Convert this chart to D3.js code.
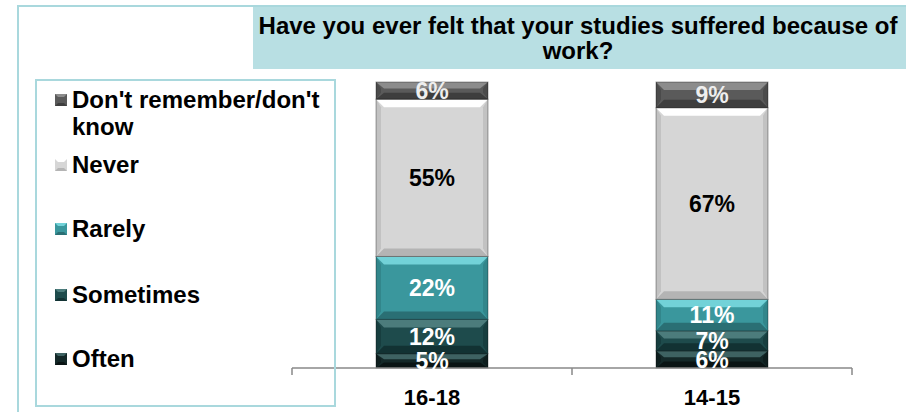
<!DOCTYPE html>
<html>
<head>
<meta charset="utf-8">
<script src="https://cdn.jsdelivr.net/npm/d3@7"></script>
<style>
  html, body { margin: 0; padding: 0; background: #ffffff; }
  svg { display: block; }
  text { font-family: "Liberation Sans", Arial, sans-serif; font-weight: bold; }
</style>
</head>
<body>
<svg id="chart" width="906" height="412"></svg>
<script>
// ---- data ----
const categories = ["16-18", "14-15"];
const seriesKeys = ["Often", "Sometimes", "Rarely", "Never", "Don't remember/don't know"];
const often = [5, 6];
const sometimes = [12, 7];
const rarely = [22, 11];
const never = [55, 67];
const dontKnow = [6, 9];
const titleLines = ["Have you ever felt that your studies suffered because of", "work?"];
const legendOrder = ["Don't remember/don't know", "Never", "Rarely", "Sometimes", "Often"];

// ---- styles ----
const palette = {
  "Often":     { base: "#142828", light: "#3e6262", dark: "#0a1414", side: "#0e1e1e", label: "#ffffff" },
  "Sometimes": { base: "#1e4b4c", light: "#4c7c7c", dark: "#123233", side: "#173e3f", label: "#ffffff" },
  "Rarely":    { base: "#3a979d", light: "#72d2d8", dark: "#2a6f74", side: "#32868b", label: "#ffffff" },
  "Never":     { base: "#d6d6d6", light: "#ffffff", dark: "#b4b4b4", side: "#c2c2c2", label: "#000000" },
  "Don't remember/don't know": { base: "#5a5a5a", light: "#8c8c8c", dark: "#3e3e3e", side: "#4b4b4b", label: "#eeeeee" }
};

const rows = categories.map((c, i) => ({
  cat: c,
  "Often": often[i],
  "Sometimes": sometimes[i],
  "Rarely": rarely[i],
  "Never": never[i],
  "Don't remember/don't know": dontKnow[i]
}));

const svg = d3.select("#chart");

// outer frame
svg.append("path")
  .attr("d", "M18,412 L18,6 L906,6")
  .attr("fill", "none").attr("stroke", "#a9d8dd").attr("stroke-width", 2);

// title box
svg.append("rect").attr("x", 253).attr("y", 7).attr("width", 653).attr("height", 62).attr("fill", "#b8dfe3");
svg.append("text")
  .attr("x", 578).attr("text-anchor", "middle").attr("font-size", 24).attr("fill", "#000")
  .selectAll("tspan").data(titleLines).join("tspan")
  .attr("x", 578).attr("y", (d, i) => 34 + i * 25).text(d => d);

// scales
const x = d3.scaleBand().domain(categories).range([292, 852]).paddingInner(0).paddingOuter(0);
const y = d3.scaleLinear().domain([0, 100]).range([368, 82]);
const barFrac = 0.4;

const stack = d3.stack().keys(seriesKeys);
const stacked = stack(rows);

function bevel(g, x0, y0, w, h, col) {
  const x1 = x0 + w, y1 = y0 + h;
  const d = Math.min(8, h * 0.38);
  const s = Math.min(5, w * 0.1);
  g.append("rect").attr("x", x0).attr("y", y0).attr("width", w).attr("height", h).attr("fill", col.base);
  g.append("polygon").attr("points", [[x0, y0], [x0 + s, y0 + d], [x0 + s, y1 - d], [x0, y1]].join(" ")).attr("fill", col.side);
  g.append("polygon").attr("points", [[x1, y0], [x1 - s, y0 + d], [x1 - s, y1 - d], [x1, y1]].join(" ")).attr("fill", col.side);
  g.append("polygon").attr("points", [[x0, y0], [x1, y0], [x1 - s * 1.6, y0 + d], [x0 + s * 1.6, y0 + d]].join(" ")).attr("fill", col.light);
  g.append("polygon").attr("points", [[x0, y1], [x1, y1], [x1 - s * 1.6, y1 - d], [x0 + s * 1.6, y1 - d]].join(" ")).attr("fill", col.dark);
  g.append("rect").attr("x", x0).attr("y", y0).attr("width", w).attr("height", h)
    .attr("fill", "none").attr("stroke", "rgba(0,0,0,0.35)").attr("stroke-width", 1);
}

// bars
const barsG = svg.append("g");
stacked.forEach(layer => {
  const col = palette[layer.key];
  layer.forEach(seg => {
    const cat = seg.data.cat;
    const bw = x.bandwidth() * barFrac;
    const bx = x(cat) + (x.bandwidth() - bw) / 2;
    const yt = y(seg[1]), yb = y(seg[0]);
    bevel(barsG.append("g"), bx, yt, bw, yb - yt, col);
  });
});

// axis
const axisY = 368;
const axisG = svg.append("g");
axisG.append("line").attr("x1", x.range()[0]).attr("x2", x.range()[1]).attr("y1", axisY).attr("y2", axisY)
  .attr("stroke", "#888888").attr("stroke-width", 1.5);
const bounds = categories.map(c => x(c)).concat([x.range()[1]]);
axisG.selectAll("line.tick").data(bounds).join("line")
  .attr("x1", d => d).attr("x2", d => d).attr("y1", axisY).attr("y2", axisY + 7)
  .attr("stroke", "#888888").attr("stroke-width", 1.5);
axisG.selectAll("text.cat").data(categories).join("text")
  .attr("x", d => x(d) + x.bandwidth() / 2).attr("y", 405)
  .attr("text-anchor", "middle").attr("font-size", 22).attr("fill", "#000").text(d => d);

// data labels
const labelsG = svg.append("g");
stacked.forEach(layer => {
  const col = palette[layer.key];
  layer.forEach(seg => {
    const cat = seg.data.cat;
    const cy = (y(seg[1]) + y(seg[0])) / 2;
    labelsG.append("text")
      .attr("x", x(cat) + x.bandwidth() / 2).attr("y", cy)
      .attr("dy", "0.36em")
      .attr("text-anchor", "middle").attr("font-size", 23).attr("fill", col.label)
      .text((seg[1] - seg[0]) + "%");
  });
});

// legend
svg.append("rect").attr("x", 36).attr("y", 80).attr("width", 299).attr("height", 326)
  .attr("fill", "none").attr("stroke", "#a9d8dd").attr("stroke-width", 2);
const legendBaselines = [108, 173, 237, 303, 367];
const legG = svg.append("g");
legendOrder.forEach((key, i) => {
  const col = palette[key];
  const by = legendBaselines[i];
  const g = legG.append("g");
  const m = 12, mx = 55, my = by - 14;
  g.append("rect").attr("x", mx).attr("y", my).attr("width", m).attr("height", m).attr("fill", col.base);
  g.append("polygon").attr("points", [[mx, my], [mx + m, my], [mx + m - 3, my + 3], [mx + 3, my + 3]].join(" ")).attr("fill", col.light);
  g.append("polygon").attr("points", [[mx, my + m], [mx + m, my + m], [mx + m - 3, my + m - 3], [mx + 3, my + m - 3]].join(" ")).attr("fill", col.dark);
  const lines = key === "Don't remember/don't know" ? ["Don't remember/don't", "know"] : [key];
  g.append("text").attr("font-size", 24).attr("fill", "#000")
    .selectAll("tspan").data(lines).join("tspan")
    .attr("x", 72).attr("y", (d, j) => by + j * 27).text(d => d);
});
</script>
</body>
</html>
